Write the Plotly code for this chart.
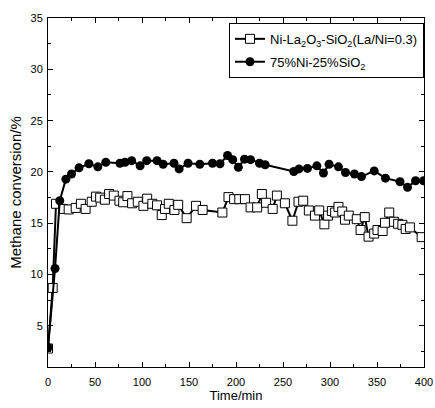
import plotly.graph_objects as go

# Ni-La2O3-SiO2 (La/Ni=0.3), open squares
t_la = [0, 5, 8.5, 16, 22, 29.5, 35, 40, 46.5, 51, 55.5, 60.5, 65, 70, 76, 80, 84.5, 89.5,
        95.5, 101.5, 105.5, 111, 116, 121, 124.5, 128.5, 134.5, 138.5, 147.5, 157.5, 164.5,
        185.5, 192, 198, 203.5, 209.5, 215.5, 222.5, 227.5, 232, 239, 243.5, 252, 260,
        266.5, 271.5, 277.5, 284, 288.5, 294, 298, 302, 305.5, 309, 313, 316, 320, 328.5,
        332.5, 337, 341, 347, 350.5, 356, 358.5, 363, 368, 372.5, 377, 380.5, 385, 397.5]
y_la = [2.8, 8.7, 16.9, 16.4, 16.35, 16.5, 16.9, 16.4, 17.1, 17.6, 17.5, 17.3, 17.85, 17.7,
        17.2, 17.05, 17.65, 16.95, 17.1, 16.7, 17.4, 16.9, 16.75, 15.8, 16.4, 16.9, 16.3,
        16.8, 15.5, 16.7, 16.3, 16.05, 17.55, 17.35, 17.35, 17.35, 16.55, 16.55, 17.85,
        17.0, 16.4, 17.7, 16.95, 15.25, 17.1, 17.2, 16.25, 15.75, 16.25, 14.9, 15.75,
        16.2, 16.05, 16.6, 16.15, 15.35, 15.75, 15.4, 14.35, 15.6, 13.7, 14.0, 14.35,
        14.25, 15.05, 16.05, 15.15, 14.95, 14.85, 14.45, 14.6, 13.65]

# 75%Ni-25%SiO2, filled circles
t_ni = [0, 7.5, 12.5, 19, 25, 33, 43.5, 53, 61.5, 76.5, 82, 89, 98, 105, 116, 122.5, 134,
        139.5, 149, 161.5, 175, 183, 191, 196.5, 202.5, 209, 215.5, 225, 231, 261.5, 267,
        276, 286, 293, 299, 309, 316.5, 326, 333.5, 347, 359, 374.5, 382.5, 391, 399.5]
y_ni = [2.9, 10.6, 17.2, 19.3, 19.8, 20.4, 20.8, 20.5, 20.95, 20.85, 20.95, 21.1, 20.6,
        21.1, 21.1, 20.75, 20.85, 20.3, 20.85, 20.75, 20.85, 20.8, 21.6, 21.2, 20.45,
        21.25, 21.2, 20.85, 20.7, 20.05, 20.3, 20.35, 20.6, 19.9, 20.75, 20.5, 19.95,
        19.8, 19.55, 20.1, 19.4, 19.05, 18.5, 19.15, 19.15]

x_ticks = [0, 50, 100, 150, 200, 250, 300, 350, 400]
y_ticks = [5, 10, 15, 20, 25, 30, 35]

FONT = "Liberation Sans, Arial, sans-serif"

fig = go.Figure()
fig.add_trace(go.Scatter(
    x=t_la, y=y_la, mode="lines+markers",
    name="Ni-La<sub>2</sub>O<sub>3</sub>-SiO<sub>2</sub>(La/Ni=0.3)",
    legendgroup="a",
    line=dict(color="black", width=2),
    marker=dict(symbol="square", size=9, color="white", line=dict(color="black", width=1)),
))
fig.add_trace(go.Scatter(
    x=t_ni, y=y_ni, mode="lines+markers",
    name="75%Ni-25%SiO<sub>2</sub>",
    legendgroup="b",
    line=dict(color="black", width=2),
    marker=dict(symbol="circle", size=9, color="black"),
))

axis_common = dict(
    showline=True, linecolor="black", linewidth=1, mirror="allticks",
    ticks="inside", ticklen=5, tickwidth=1, tickcolor="black",
    showgrid=False, zeroline=False, automargin=False,
    tickfont=dict(family=FONT, size=11, color="black"),
)

fig.update_xaxes(
    range=[0, 400], tickvals=x_ticks, ticktext=[str(v) for v in x_ticks],
    ticklabelstandoff=5,
    minor=dict(ticks="inside", ticklen=3, dtick=25, tick0=0, tickcolor="black", showgrid=False),
    title=dict(text="Time/min", font=dict(family=FONT, size=13, color="black"), standoff=3),
    **axis_common,
)
fig.update_yaxes(
    range=[1, 35], tickvals=y_ticks, ticktext=[str(v) for v in y_ticks],
    ticklabelstandoff=2,
    minor=dict(ticks="inside", ticklen=3, dtick=2.5, tick0=0, tickcolor="black", showgrid=False),
    title=dict(text="Methane conversion/%", font=dict(family=FONT, size=15, color="black"), standoff=5),
    **axis_common,
)

fig.update_layout(
    width=435, height=408,
    margin=dict(l=48, r=11, t=18, b=41),
    paper_bgcolor="white", plot_bgcolor="white",
    font=dict(family=FONT, color="black"),
    legend=dict(
        x=1, y=0.986, xanchor="right", yanchor="top",
        bgcolor="white", bordercolor="black", borderwidth=1,
        font=dict(family=FONT, size=13, color="black"),
        itemwidth=30, tracegroupgap=3,
    ),
    showlegend=True,
)

fig.write_html("out.html", config={"displayModeBar": False},
               post_script="document.body.style.margin='0';")
